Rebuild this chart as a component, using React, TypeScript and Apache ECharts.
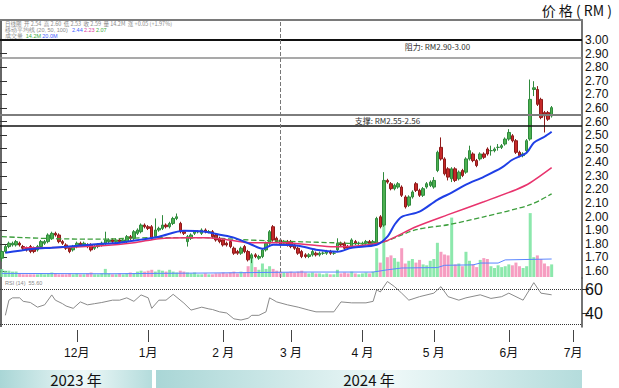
import React, { useEffect, useRef } from "react";
import * as echarts from "echarts";

// ---------- text ----------
const axisTitle = "价 格 ( RM )";
const priceTickLabels = ["3.00", "2.90", "2.80", "2.70", "2.70", "2.60", "2.60", "2.50", "2.50", "2.40", "2.30", "2.20", "2.10", "2.00", "1.90", "1.80", "1.70", "1.60"];
const rsiTickValues = [40, 60];
const rsiGuideValues = [60, 30];
const monthLabels = ["12月", "1月", "2 月", "3 月", "4 月", "5 月", "6月", "7月"];
const yearLabels = ["2023 年", "2024 年"];
const resistanceText = "阻力: RM2.90-3.00";
const supportText = "支撑: RM2.55-2.56";
const resistanceLevels = [3.0, 2.89];
const supportLevels = [2.55, 2.48];

// ---------- calendar (Bursa trading days) ----------
const startDate = "2023-11-01";
const endDate = "2024-07-03";
const holidays = ["2023-11-13", "2023-12-25", "2024-01-01", "2024-01-25", "2024-02-01", "2024-02-12", "2024-03-28", "2024-04-10", "2024-04-11", "2024-05-01", "2024-05-22", "2024-06-03", "2024-06-17"];

// ---------- daily candles [open, close, low, high] ----------
const candles: number[][] = [
  // Nov 2023
  [1.68, 1.72, 1.66, 1.73], [1.72, 1.75, 1.71, 1.76], [1.75, 1.77, 1.74, 1.78], [1.76, 1.77, 1.75, 1.78], [1.76, 1.78, 1.75, 1.79],
  [1.77, 1.76, 1.75, 1.78], [1.75, 1.74, 1.73, 1.76], [1.74, 1.73, 1.72, 1.75], [1.75, 1.72, 1.71, 1.76], [1.74, 1.72, 1.71, 1.75],
  [1.73, 1.75, 1.72, 1.76], [1.75, 1.78, 1.74, 1.79], [1.77, 1.78, 1.76, 1.79], [1.78, 1.82, 1.77, 1.83], [1.80, 1.83, 1.79, 1.84],
  [1.83, 1.82, 1.81, 1.84], [1.82, 1.78, 1.77, 1.83], [1.78, 1.77, 1.76, 1.79], [1.76, 1.74, 1.73, 1.77], [1.74, 1.72, 1.71, 1.75],
  [1.73, 1.75, 1.72, 1.76],
  // Dec 2023
  [1.75, 1.77, 1.74, 1.78], [1.77, 1.76, 1.75, 1.78], [1.76, 1.77, 1.75, 1.78], [1.76, 1.75, 1.74, 1.77], [1.76, 1.73, 1.72, 1.77],
  [1.74, 1.75, 1.73, 1.76], [1.75, 1.76, 1.74, 1.77], [1.76, 1.77, 1.75, 1.78], [1.77, 1.79, 1.76, 1.84], [1.78, 1.79, 1.77, 1.80],
  [1.79, 1.78, 1.77, 1.80], [1.78, 1.79, 1.77, 1.80], [1.79, 1.78, 1.77, 1.80], [1.78, 1.79, 1.77, 1.80], [1.78, 1.81, 1.77, 1.82],
  [1.81, 1.80, 1.79, 1.82], [1.80, 1.84, 1.79, 1.85], [1.83, 1.85, 1.82, 1.86], [1.84, 1.88, 1.83, 1.89], [1.88, 1.87, 1.86, 1.89],
  // Jan 2024
  [1.87, 1.86, 1.85, 1.88], [1.87, 1.80, 1.79, 1.88], [1.81, 1.85, 1.80, 1.92], [1.85, 1.86, 1.84, 1.87], [1.86, 1.88, 1.85, 1.94],
  [1.88, 1.87, 1.86, 1.89], [1.87, 1.89, 1.86, 1.90], [1.89, 1.92, 1.88, 1.93], [1.92, 1.93, 1.91, 1.95], [1.89, 1.84, 1.83, 1.90],
  [1.84, 1.83, 1.82, 1.85], [1.78, 1.81, 1.75, 1.82], [1.80, 1.82, 1.79, 1.83], [1.83, 1.84, 1.82, 1.85], [1.84, 1.84, 1.83, 1.85],
  [1.83, 1.85, 1.82, 1.86], [1.85, 1.84, 1.83, 1.86], [1.84, 1.84, 1.83, 1.85], [1.84, 1.81, 1.80, 1.85], [1.82, 1.79, 1.78, 1.83],
  [1.80, 1.78, 1.77, 1.81],
  // Feb 2024
  [1.79, 1.76, 1.75, 1.80], [1.77, 1.76, 1.75, 1.78], [1.78, 1.75, 1.74, 1.79], [1.74, 1.71, 1.70, 1.75], [1.72, 1.71, 1.70, 1.73],
  [1.71, 1.74, 1.70, 1.75], [1.75, 1.72, 1.71, 1.76], [1.72, 1.67, 1.66, 1.73], [1.68, 1.70, 1.65, 1.71], [1.70, 1.69, 1.68, 1.71],
  [1.68, 1.69, 1.67, 1.70], [1.69, 1.73, 1.68, 1.74], [1.73, 1.77, 1.72, 1.78], [1.77, 1.84, 1.76, 1.85], [1.87, 1.79, 1.78, 1.88],
  [1.80, 1.78, 1.77, 1.81], [1.79, 1.76, 1.75, 1.80], [1.77, 1.78, 1.76, 1.79], [1.78, 1.76, 1.75, 1.79],
  // Mar 2024
  [1.78, 1.75, 1.74, 1.79], [1.76, 1.74, 1.73, 1.77], [1.74, 1.71, 1.70, 1.75], [1.72, 1.69, 1.68, 1.73], [1.70, 1.69, 1.68, 1.71],
  [1.69, 1.70, 1.68, 1.71], [1.70, 1.72, 1.69, 1.73], [1.71, 1.70, 1.69, 1.72], [1.70, 1.71, 1.69, 1.72], [1.71, 1.71, 1.70, 1.72],
  [1.71, 1.72, 1.70, 1.73], [1.72, 1.71, 1.70, 1.73], [1.71, 1.71, 1.70, 1.72], [1.73, 1.77, 1.72, 1.80], [1.77, 1.76, 1.75, 1.78],
  [1.77, 1.74, 1.73, 1.78], [1.75, 1.74, 1.73, 1.76], [1.75, 1.79, 1.74, 1.80], [1.78, 1.77, 1.76, 1.79], [1.77, 1.77, 1.76, 1.78],
  // Apr 2024
  [1.77, 1.77, 1.76, 1.78], [1.77, 1.78, 1.76, 1.79], [1.78, 1.77, 1.76, 1.79], [1.77, 1.78, 1.76, 1.79], [1.77, 1.92, 1.76, 1.93],
  [1.93, 1.87, 1.86, 1.94], [1.88, 2.15, 1.87, 2.20], [2.15, 2.14, 2.13, 2.16], [2.13, 2.10, 2.09, 2.14], [2.10, 2.12, 2.09, 2.13],
  [2.11, 2.13, 2.10, 2.14], [2.11, 2.06, 2.05, 2.12], [2.05, 1.99, 1.98, 2.06], [2.00, 2.05, 1.99, 2.06], [2.05, 2.08, 2.04, 2.09],
  [2.13, 2.09, 2.08, 2.14], [2.09, 2.06, 2.05, 2.10], [2.06, 2.10, 2.05, 2.11], [2.11, 2.13, 2.10, 2.14], [2.12, 2.14, 2.11, 2.15],
  // May 2024
  [2.11, 2.15, 2.10, 2.17], [2.21, 2.32, 2.20, 2.33], [2.35, 2.28, 2.27, 2.41], [2.28, 2.19, 2.18, 2.29], [2.22, 2.17, 2.15, 2.23],
  [2.16, 2.22, 2.14, 2.23], [2.22, 2.15, 2.14, 2.23], [2.16, 2.20, 2.15, 2.21], [2.21, 2.18, 2.17, 2.22], [2.20, 2.28, 2.19, 2.29],
  [2.28, 2.33, 2.27, 2.36], [2.31, 2.27, 2.26, 2.32], [2.27, 2.24, 2.23, 2.28], [2.28, 2.31, 2.27, 2.32], [2.31, 2.29, 2.28, 2.32],
  [2.34, 2.31, 2.30, 2.35], [2.33, 2.33, 2.30, 2.36], [2.33, 2.34, 2.32, 2.35], [2.35, 2.35, 2.33, 2.37], [2.35, 2.36, 2.34, 2.37],
  [2.37, 2.40, 2.36, 2.41],
  // Jun 2024
  [2.40, 2.44, 2.39, 2.46], [2.42, 2.39, 2.38, 2.43], [2.39, 2.32, 2.31, 2.40], [2.32, 2.30, 2.29, 2.33], [2.30, 2.31, 2.29, 2.32],
  [2.33, 2.39, 2.32, 2.40], [2.40, 2.64, 2.39, 2.76], [2.70, 2.71, 2.66, 2.75], [2.70, 2.61, 2.60, 2.72], [2.64, 2.53, 2.52, 2.65],
  [2.56, 2.54, 2.44, 2.57], [2.56, 2.52, 2.51, 2.57], [2.54, 2.59, 2.53, 2.60],
];

// ---------- volume (million shares) ----------
const volumes = [
  9, 7, 7, 6, 6, 4, 3, 3, 3, 3, 3, 4, 3, 4, 5, 4, 3, 3, 3, 4, 3,
  4, 3, 3, 4, 5, 3, 3, 4, 9, 4, 3, 3, 4, 3, 4, 5, 4, 6, 7, 6,
  7, 8, 6, 8, 7, 6, 8, 6, 5, 7, 6, 5, 4, 5, 3, 3, 4, 3, 3, 4, 4,
  5, 4, 5, 6, 4, 6, 5, 12, 22, 11, 8, 15, 9, 12, 9, 7, 6, 5, 5,
  6, 5, 6, 7, 5, 4, 5, 4, 4, 3, 4, 3, 3, 8, 4, 5, 4, 6, 4, 3,
  4, 5, 4, 6, 32, 16, 60, 22, 24, 21, 17, 32, 15, 18, 20, 16, 19, 14, 13, 18,
  20, 38, 28, 25, 24, 66, 14, 15, 12, 28, 18, 14, 11, 19, 21, 20, 12, 10, 13, 11, 12,
  14, 13, 16, 12, 10, 12, 71, 22, 24, 20, 15, 12, 14,
];

// ---------- moving averages & RSI, read as [bar index, value] ----------
const maShort = [[1, 1.713], [5, 1.725], [9, 1.737], [14, 1.743], [18, 1.749], [28, 1.767], [33, 1.773], [39, 1.792], [44, 1.81], [51, 1.846], [57, 1.84], [61, 1.822], [65, 1.804], [70, 1.761], [73, 1.737], [76, 1.761], [83, 1.755], [88, 1.731], [94, 1.719], [98, 1.743], [105, 1.761], [108, 1.81], [110, 1.882], [112, 1.93], [117, 1.961], [122, 2.033], [126, 2.076], [130, 2.124], [135, 2.172], [140, 2.227], [143, 2.275], [147, 2.317], [149, 2.378], [152, 2.414], [154, 2.444]];
const maMid = [[6, 1.743], [18, 1.746], [28, 1.755], [37, 1.773], [44, 1.798], [52, 1.804], [57, 1.804], [63, 1.792], [70, 1.773], [79, 1.773], [86, 1.761], [93, 1.749], [100, 1.755], [107, 1.779], [116, 1.87], [125, 1.943], [135, 2.021], [144, 2.094], [148, 2.136], [154, 2.227]];
const maLong = [[0, 1.81], [14, 1.798], [28, 1.795], [42, 1.804], [56, 1.804], [67, 1.792], [75, 1.785], [84, 1.779], [93, 1.773], [101, 1.767], [107, 1.779], [116, 1.852], [125, 1.882], [135, 1.93], [148, 2.003], [154, 2.069]];
const volumeMa = [[0, 4], [30, 3.6], [60, 4.5], [84, 5.5], [104, 5.5], [108, 8], [112, 10], [122, 10.5], [124, 13], [132, 13.5], [134, 15.5], [139, 15.5], [141, 19], [154, 20]];
const rsi14 = [[1, 38], [2, 51], [3, 53], [5, 53], [6, 50], [8, 49], [10, 45], [12, 47], [14, 55.5], [15, 51], [17, 48], [18, 46], [20, 44], [22, 49.5], [24, 47], [26, 48], [28, 49], [31, 51], [33, 51], [35, 53], [37, 50], [39, 55.5], [41, 53], [42, 44], [44, 51], [46, 51], [48, 56], [51, 48.5], [53, 42.5], [56, 45], [58, 43.5], [59, 43], [61, 41], [63, 40], [65, 35], [67, 34], [69, 35.5], [70, 38], [72, 38], [74, 41], [75, 53], [77, 49.5], [80, 47], [83, 45], [86, 42.5], [88, 41], [93, 41], [95, 49.5], [98, 48.7], [102, 48.7], [104, 50], [105, 60], [106, 58], [108, 67], [110, 62.6], [112, 57], [114, 51], [117, 54], [121, 57], [123, 62.6], [125, 54], [128, 51], [130, 53], [134, 55.6], [137, 52.5], [140, 54], [142, 57], [146, 51], [149, 66], [151, 57], [154, 55.6]];

function tradingDays(start: string, end: string, hol: string[]) {
  const out: string[] = [];
  const d = new Date(start + "T00:00:00Z");
  const e = new Date(end + "T00:00:00Z");
  while (d <= e) {
    const wd = d.getUTCDay();
    const s = d.toISOString().slice(0, 10);
    if (wd !== 0 && wd !== 6 && hol.indexOf(s) < 0) out.push(s);
    d.setUTCDate(d.getUTCDate() + 1);
  }
  return out;
}

const FONT = "'Liberation Sans','Noto Sans CJK SC',sans-serif";
const CJK = "'Noto Sans CJK SC','Liberation Sans',sans-serif";
const UP = "#4cb050";
const DOWN = "#c62828";

export default function App() {
  const ref = useRef<HTMLDivElement>(null);
  useEffect(() => {
    if (!ref.current) return;
    const chart = echarts.init(ref.current, null, { renderer: "svg" });
    const dates = tradingDays(startDate, endDate, holidays);
    const monthStart: Record<number, string> = {};
    let k = -1;
    dates.forEach((d, i) => {
      if (i === 0 || d.slice(5, 7) !== dates[i - 1].slice(5, 7)) {
        if (k >= 0 && k < monthLabels.length) monthStart[i] = monthLabels[k];
        k++;
      }
    });
    const volData = volumes.map((v, i) => ({
      value: v,
      itemStyle: { color: candles[i][1] >= candles[i][0] ? "rgba(120,228,158,0.85)" : "rgba(244,140,182,0.85)" },
    }));
    const levelLine = (v: number, color: string, width: number) => ({ yAxis: v, lineStyle: { color, width, type: "solid" } });
    const band = (x: number, w: number) => ({
      type: "rect",
      shape: { x, y: 370, width: w, height: 18 },
      style: {
        fill: new echarts.graphic.LinearGradient(0, 0, 1, 0, [
          { offset: 0, color: "#a9d6d6" },
          { offset: 0.55, color: "#eef8f8" },
          { offset: 1, color: "#b4dcdc" },
        ]),
      },
      silent: true,
    });
    const option: any = {
      animation: false,
      backgroundColor: "#ffffff",
      textStyle: { fontFamily: FONT },
      grid: [
        { left: 0, right: 37, top: 20, height: 258 },
        { left: 0, right: 37, top: 40, height: 231 },
        { left: 0, right: 37, top: 205, height: 72 },
        { left: 0, right: 37, top: 278, height: 49 },
      ],
      xAxis: [
        { gridIndex: 0, type: "category", data: dates, position: "top", boundaryGap: true, axisLine: { show: true, onZero: false, lineStyle: { color: "#7a7a7a", width: 2 } }, axisTick: { show: false }, axisLabel: { show: false }, splitLine: { show: false } },
        { gridIndex: 1, type: "value", show: false },
        { gridIndex: 2, type: "category", data: dates, show: false, boundaryGap: true },
        {
          gridIndex: 3, type: "category", data: dates, position: "bottom", offset: 3, boundaryGap: true,
          axisLine: { show: false },
          axisTick: { show: true, alignWithLabel: true, length: 12, interval: (i: number) => monthStart[i] !== undefined, lineStyle: { color: "#444", width: 1 } },
          axisLabel: { interval: (i: number) => monthStart[i] !== undefined, formatter: (_v: string, i: number) => monthStart[i] || "", margin: 17, fontSize: 12, color: "#111", fontFamily: FONT },
          splitLine: { show: false },
        },
      ],
      yAxis: [
        { gridIndex: 0, type: "value", min: 1.56, max: 3.12, position: "right", axisLine: { show: true, lineStyle: { color: "#444", width: 1.5 } }, axisTick: { show: false }, axisLabel: { show: false }, splitLine: { show: false } },
        { gridIndex: 1, type: "category", data: priceTickLabels.slice().reverse(), boundaryGap: false, position: "right", axisLine: { show: false }, axisTick: { show: true, length: 7, lineStyle: { color: "#333" } }, axisLabel: { interval: 0, fontSize: 12, color: "#111", margin: 3, fontFamily: FONT }, splitLine: { show: false } },
        { gridIndex: 2, type: "value", min: 0, max: 80, show: false },
        { gridIndex: 3, type: "value", min: 28, max: 70, position: "right", axisLine: { show: true, lineStyle: { color: "#444", width: 1.5 } }, axisTick: { show: true, length: 7, customValues: rsiTickValues, lineStyle: { color: "#333" } }, axisLabel: { customValues: rsiTickValues, fontSize: 16, color: "#111", margin: 3, fontFamily: FONT }, splitLine: { show: false } },
      ],
      series: [
        { type: "bar", xAxisIndex: 2, yAxisIndex: 2, data: volData, barWidth: 3, z: 1 },
        { type: "line", xAxisIndex: 2, yAxisIndex: 2, data: volumeMa, symbol: "none", lineStyle: { color: "#5a86ff", width: 1 }, z: 2 },
        {
          type: "candlestick", xAxisIndex: 0, yAxisIndex: 0, data: candles, barWidth: 3, z: 3,
          itemStyle: { color: UP, color0: DOWN, borderColor: "#2f8a3c", borderColor0: "#8e1a1a", borderWidth: 1 },
          markLine: {
            symbol: "none", silent: true, label: { show: false },
            data: [
              levelLine(resistanceLevels[0], "#111", 2),
              levelLine(resistanceLevels[1], "#8c8c8c", 1.5),
              levelLine(supportLevels[0], "#7d7d7d", 2),
              levelLine(supportLevels[1], "#111", 1.5),
              { xAxis: dates[78], lineStyle: { color: "#777", width: 1, type: "dashed" } },
            ],
          },
          markPoint: {
            symbol: "rect", symbolSize: [1, 1], silent: true, itemStyle: { color: "rgba(0,0,0,0)" },
            label: { show: true, position: "inside", color: "#333", fontSize: 8, fontFamily: CJK },
            data: [
              { coord: [dates[122], 2.962], label: { formatter: resistanceText } },
              { coord: [dates[108], 2.513], label: { formatter: supportText } },
            ],
          },
        },
        { type: "line", xAxisIndex: 0, yAxisIndex: 0, data: maLong, symbol: "none", smooth: 0.3, lineStyle: { color: "#3c9e3c", width: 1.3, type: "dashed" }, z: 4 },
        { type: "line", xAxisIndex: 0, yAxisIndex: 0, data: maMid, symbol: "none", smooth: 0.3, lineStyle: { color: "#e8336d", width: 1.5 }, z: 4 },
        { type: "line", xAxisIndex: 0, yAxisIndex: 0, data: maShort, symbol: "none", smooth: 0.3, lineStyle: { color: "#1f3fe6", width: 2 }, z: 5 },
        {
          type: "line", xAxisIndex: 3, yAxisIndex: 3, data: rsi14, symbol: "none", lineStyle: { color: "#8a8a8a", width: 1 }, z: 3,
          markLine: { symbol: "none", silent: true, label: { show: false }, data: rsiGuideValues.map((v) => ({ yAxis: v, lineStyle: { color: "#333", width: 1, type: "dotted" } })) },
        },
      ],
      graphic: [
        { type: "line", shape: { x1: 1, y1: 20, x2: 1, y2: 327 }, style: { stroke: "#333", lineWidth: 1.5 }, silent: true },
        { type: "text", x: 612, y: 10, silent: true, style: { text: axisTitle, fontSize: 14, fill: "#111", fontFamily: CJK, align: "right", verticalAlign: "middle" } },
        {
          type: "text", left: 5, top: 21, silent: true,
          style: { text: "日线图  开 2.54  高 2.60  低 2.53  收 2.59  量 14.2M  涨 +0.05 (+1.97%)", fontSize: 5.5, fill: "#8a8a8a", fontFamily: CJK },
        },
        {
          type: "text", left: 5, top: 27, silent: true,
          style: {
            text: "{g|移动平均线 (20, 50, 100)  } {b|2.44} {p|2.23} {n|2.07}",
            fontSize: 5.5, fontFamily: CJK,
            rich: { g: { fill: "#8a8a8a", fontSize: 5.5 }, b: { fill: "#4060ff", fontSize: 5.5 }, p: { fill: "#e040a0", fontSize: 5.5 }, n: { fill: "#3caa3c", fontSize: 5.5 } },
          },
        },
        {
          type: "text", left: 5, top: 33, silent: true,
          style: {
            text: "{g|成交量 } {n|14.2M} {b|20.0M}",
            fontSize: 5.5, fontFamily: CJK,
            rich: { g: { fill: "#8a8a8a", fontSize: 5.5 }, b: { fill: "#4060ff", fontSize: 5.5 }, n: { fill: "#3caa3c", fontSize: 5.5 } },
          },
        },
        { type: "text", left: 5, top: 280, silent: true, style: { text: "RSI (14)  55.60", fontSize: 5.5, fill: "#8a8a8a" } },
        band(0, 152),
        band(156, 426),
        { type: "text", x: 76, y: 379, silent: true, style: { text: yearLabels[0], fontSize: 15, fill: "#111", fontFamily: CJK, align: "center", verticalAlign: "middle" } },
        { type: "text", x: 369, y: 379, silent: true, style: { text: yearLabels[1], fontSize: 15, fill: "#111", fontFamily: CJK, align: "center", verticalAlign: "middle" } },
      ],
    };
    chart.setOption(option);
    return () => chart.dispose();
  }, []);
  return <div ref={ref} style={{ position: "fixed", left: 0, top: 0, width: 619, height: 388, background: "#fff" }} />;
}
